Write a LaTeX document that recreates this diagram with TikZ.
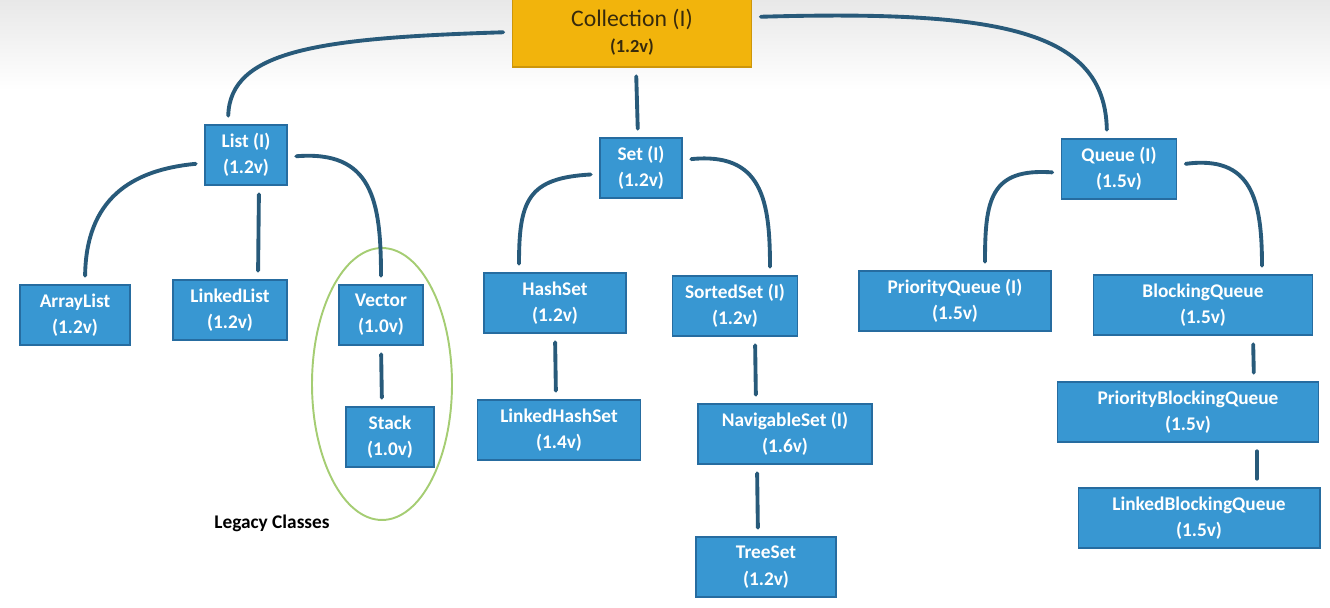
\documentclass[tikz,border=0pt]{standalone}
\usepackage{fontspec}
\setmainfont{Carlito}
\usetikzlibrary{shapes.geometric, positioning, calc}

\definecolor{boxblue}{RGB}{56,151,210}
\definecolor{boxedge}{RGB}{38,108,160}
\definecolor{rootgold}{RGB}{242,180,12}
\definecolor{rootedge}{RGB}{205,150,10}
\definecolor{roottext}{RGB}{55,42,12}
\definecolor{linkblue}{RGB}{40,90,122}
\definecolor{legacygreen}{RGB}{165,205,115}

\begin{document}
\begin{tikzpicture}[
  x=0.02cm, y=-0.02cm,
  cls/.style={rectangle, draw=boxedge, line width=0.6pt, fill=boxblue, text=white, minimum height=1.2cm, align=center, inner sep=2pt, font=\bfseries\fontsize{11}{15}\selectfont},
  root/.style={rectangle, draw=rootedge, line width=0.6pt, fill=rootgold, text=roottext, minimum width=4.78cm, minimum height=1.4cm, align=center},
  link/.style={draw=linkblue, line width=2.2pt, line cap=round, shorten <=5pt, shorten >=5pt}
]
\useasboundingbox (0,0) rectangle (1330,608);
\shade[top color=black!9, bottom color=white] (0,0) rectangle (1330,90);

% -------------------------
% ROOT
% -------------------------
\node[root] (coll) at (632,32) {{\fontsize{13.5}{18}\selectfont Collection (I)}\\[3pt]{\bfseries\fontsize{10.5}{14}\selectfont (1.2v)}};

% -------------------------
% LIST BRANCH
% -------------------------
\node[cls, minimum width=1.64cm] (list) at (246,155) {List (I)\\(1.2v)};
\node[cls, minimum width=2.2cm] (arraylist) at (75,315) {ArrayList\\(1.2v)};
\node[cls, minimum width=2.28cm] (linkedlist) at (230,310) {LinkedList\\(1.2v)};
\node[cls, minimum width=1.68cm] (vector) at (381,315) {Vector\\(1.0v)};
\node[cls, minimum width=1.76cm] (stack) at (390,437) {Stack\\(1.0v)};

% Legacy classes ring
\node[ellipse, draw=legacygreen, line width=1.1pt, minimum width=2.8cm, minimum height=5.44cm] (legacy) at (382,384) {};
\node[font=\bfseries\fontsize{11}{13}\selectfont] (legacylabel) at (272,523) {Legacy Classes};

% -------------------------
% SET BRANCH
% -------------------------
\node[cls, minimum width=1.64cm] (set) at (641,168) {Set (I)\\(1.2v)};
\node[cls, minimum width=2.84cm] (hashset) at (555,303) {HashSet\\(1.2v)};
\node[cls, minimum width=3.26cm] (linkedhashset) at (559,430) {LinkedHashSet\\(1.4v)};
\node[cls, minimum width=2.5cm] (sortedset) at (735,306) {SortedSet (I)\\(1.2v)};
\node[cls, minimum width=3.48cm] (navigableset) at (785,434) {NavigableSet (I)\\(1.6v)};
\node[cls, minimum width=2.8cm] (treeset) at (766,567) {TreeSet\\(1.2v)};

% -------------------------
% QUEUE BRANCH
% -------------------------
\node[cls, minimum width=2.3cm] (queue) at (1119,169) {Queue (I)\\(1.5v)};
\node[cls, minimum width=3.84cm] (priorityqueue) at (955,301) {PriorityQueue (I)\\(1.5v)};
\node[cls, minimum width=4.38cm] (blockingqueue) at (1203,305) {BlockingQueue\\(1.5v)};
\node[cls, minimum width=5.22cm] (pbq) at (1188,412) {PriorityBlockingQueue\\(1.5v)};
\node[cls, minimum width=4.84cm] (lbq) at (1199,518) {LinkedBlockingQueue\\(1.5v)};

% -------------------------
% CONNECTORS
% -------------------------
\draw[link] (coll.west) .. controls (320,38) and (230,50) .. ($(list.north)+(-18,0)$);
\draw[link] ($(coll.south)+(4,0)$) -- ($(set.north)+(-3,0)$);
\draw[link] ($(coll.east)+(0,-15)$) .. controls (1000,10) and (1105,30) .. ($(queue.north)+(-12,0)$);

\draw[link] ($(list.west)+(0,8)$) .. controls (130,170) and (86,200) .. ($(arraylist.north)+(10,0)$);
\draw[link] ($(list.south)+(13,0)$) -- ($(linkedlist.north)+(28,0)$);
\draw[link] ($(list.east)+(0,2)$) .. controls (372,150) and (381,200) .. (vector.north);
\draw[link] (vector.south) -- ($(stack.north)+(-8,0)$);

\draw[link] ($(set.west)+(0,6)$) .. controls (528,178) and (519,200) .. ($(hashset.north)+(-36,0)$);
\draw[link] ($(set.east)+(0,-8)$) .. controls (762,152) and (770,200) .. ($(sortedset.north)+(35,0)$);
\draw[link] (hashset.south) -- ($(linkedhashset.north)+(-3,0)$);
\draw[link] ($(sortedset.south)+(20,0)$) -- ($(navigableset.north)+(-29,0)$);
\draw[link] ($(navigableset.south)+(-28,0)$) -- ($(treeset.north)+(-8,0)$);

\draw[link] ($(queue.west)+(0,4)$) .. controls (990,168) and (985,200) .. ($(priorityqueue.north)+(30,0)$);
\draw[link] ($(queue.east)+(0,-4)$) .. controls (1252,155) and (1262,200) .. ($(blockingqueue.north)+(59,0)$);
\draw[link] ($(blockingqueue.south)+(50,0)$) -- ($(pbq.north)+(66,0)$);
\draw[link] ($(pbq.south)+(69,0)$) -- ($(lbq.north)+(58,0)$);

\end{tikzpicture}
\end{document}
